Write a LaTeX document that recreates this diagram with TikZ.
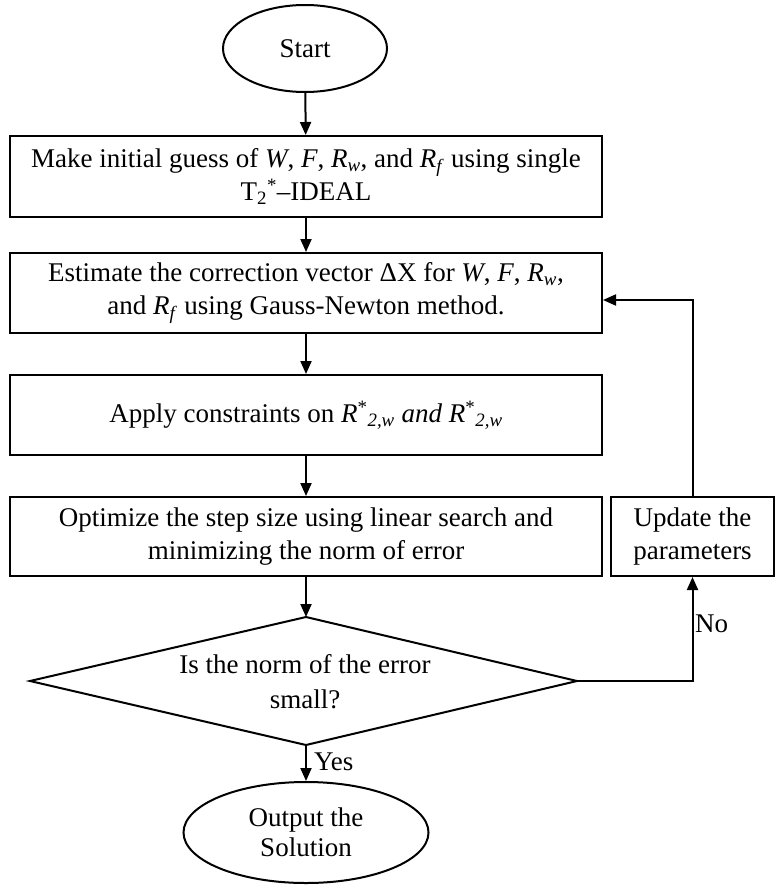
\documentclass[tikz,border=0pt]{standalone}
\usepackage{fontspec}
\setmainfont{Liberation Serif}
\usetikzlibrary{shapes.geometric,arrows.meta}
\begin{document}
\begin{tikzpicture}[x=1pt,y=-1pt,
  every node/.style={font=\fontsize{27}{33}\selectfont, align=center, line width=2pt},
  box/.style={draw, rectangle, minimum width=592pt, minimum height=81pt, inner sep=0pt},
  term/.style={draw, ellipse, inner sep=0pt},
  arr/.style={line width=2pt, -{Triangle[length=13pt,width=11pt]}},
  lbl/.style={draw=none, inner sep=0pt}
]
\useasboundingbox (0,0) rectangle (779,896);
\node[term, minimum width=164pt, minimum height=87pt] (start) at (305,48.5) {Start};
\node[box] (b1) at (306,176.5) {Make initial guess of \textit{W}, \textit{F}, \textit{R}\textsubscript{\textit{w}}, and \textit{R}\textsubscript{\textit{f}} using single\\T\textsubscript{2}\textsuperscript{*}–IDEAL};
\node[box, minimum height=80pt] (b2) at (306,293) {Estimate the correction vector ΔX for \textit{W}, \textit{F}, \textit{R}\textsubscript{\textit{w}},\\and \textit{R}\textsubscript{\textit{f}} using Gauss-Newton method.};
\node[box, minimum height=80pt] (b3) at (306,415) {Apply constraints on \textit{R}\textsuperscript{*}\textsubscript{\textit{2,w}} \textit{and} \textit{R}\textsuperscript{*}\textsubscript{\textit{2,w}}};
\node[box, minimum height=79pt] (b4) at (306,536.5) {Optimize the step size using linear search and\\minimizing the norm of error};
\node[draw, rectangle, minimum width=163pt, minimum height=79pt, inner sep=0pt] (upd) at (692.5,536.5) {Update the\\parameters};
% decision diamond
\coordinate (dtop) at (306,617);
\coordinate (dbot) at (306,745);
\coordinate (dwest) at (30,681);
\coordinate (deast) at (577,681);
\draw[line width=2pt, line join=miter] (dtop) -- (deast) -- (dbot) -- (dwest) -- cycle;
\node[inner sep=0pt, font=\fontsize{27}{35}\selectfont] (dia) at (305,682) {Is the norm of the error\\small?};
\node[term, minimum width=245pt, minimum height=101pt, font=\fontsize{27}{30}\selectfont] (out) at (306,832.5) {Output the\\Solution};
\draw[arr] (start) -- (b1);
\draw[arr] (b1) -- (b2);
\draw[arr] (b2) -- (b3);
\draw[arr] (b3) -- (b4);
\draw[arr] (b4) -- (dtop);
\draw[arr] (dbot) -- (out);
\node[lbl, anchor=west] (yes) at (313,762) {Yes};
\draw[arr] (deast) -| (upd.south);
\node[lbl, anchor=west] (no) at (694,624) {No};
\draw[arr] (upd.north) |- ([yshift=-7pt]b2.east);
\end{tikzpicture}
\end{document}
